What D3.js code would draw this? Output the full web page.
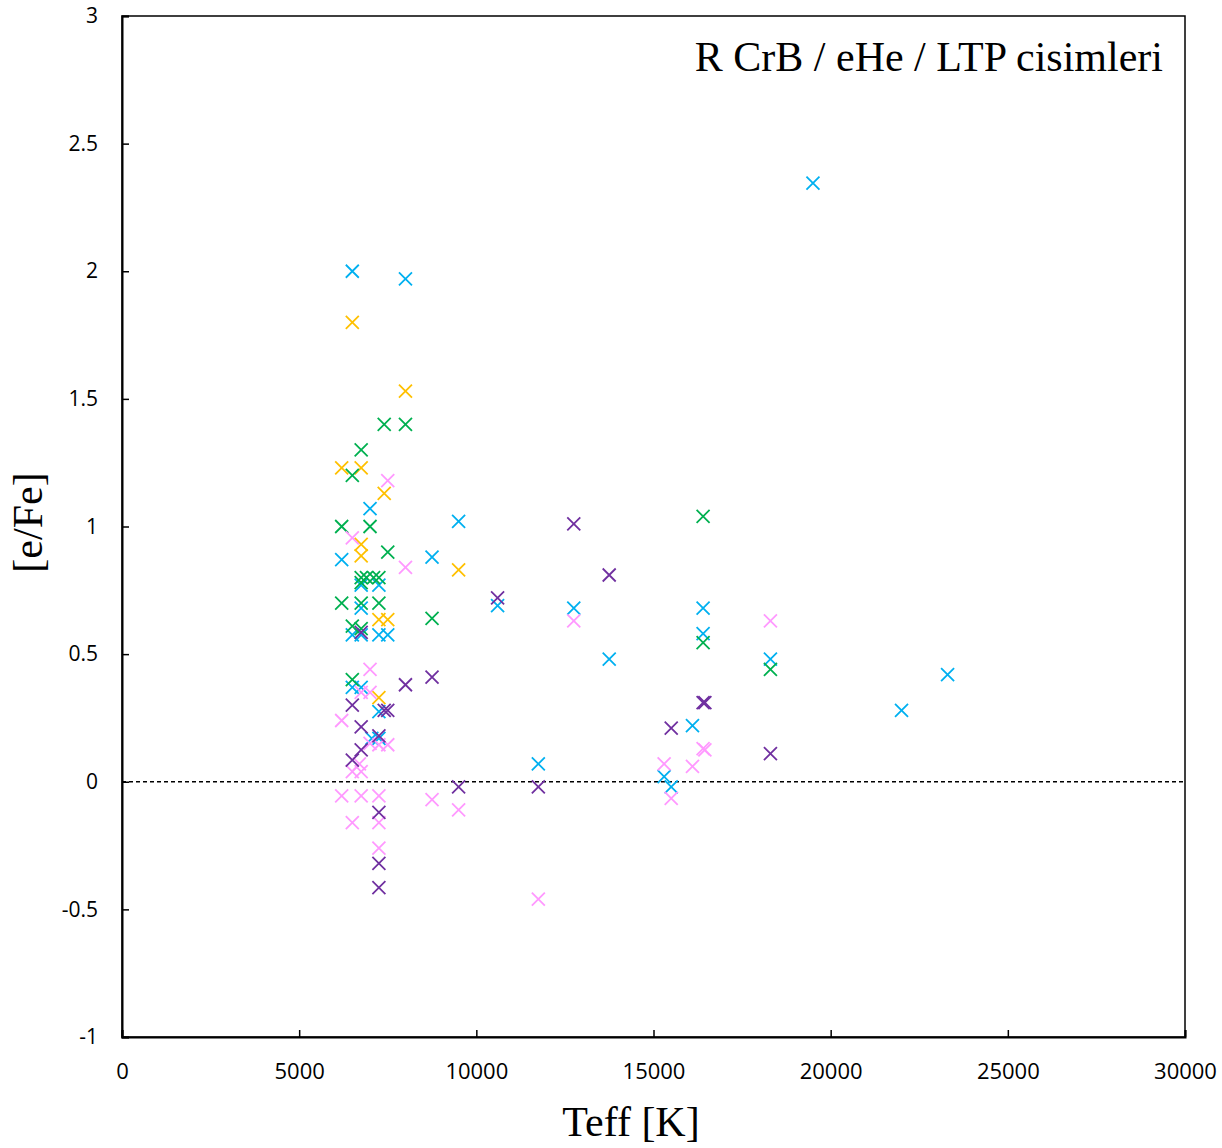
<!DOCTYPE html>
<html>
<head>
<meta charset="utf-8">
<script src="https://cdn.jsdelivr.net/npm/d3@7"></script>
<style>
  body { margin: 0; background: #fff; }
</style>
</head>
<body>
<div id="chart"></div>
<script>
// [Teff, e/Fe] pairs per colour group
let cyanPts = [[6500,2.00],[8000,1.97],[19500,2.345],[6200,0.87],[7000,1.07],[9500,1.02],[8750,0.88],
    [6750,0.77],[7250,0.77],[6750,0.68],[6500,0.575],[6750,0.575],[7250,0.575],[7500,0.575],[10600,0.69],
    [12750,0.68],[13750,0.48],[16400,0.68],[16400,0.58],[18300,0.48],[22000,0.28],[23300,0.42],
    [6500,0.37],[6750,0.37],[7250,0.275],[7050,0.17],[7250,0.17],[11750,0.07],[15300,0.02],[15500,-0.02],[16100,0.22]];
let orangePts = [[6500,1.80],[8000,1.53],[6200,1.23],[6750,1.23],[7400,1.13],[6750,0.93],[6750,0.885],
    [9500,0.83],[7250,0.635],[7500,0.635],[7250,0.33]];
let greenPts = [[6750,1.30],[7400,1.40],[8000,1.40],[6500,1.20],[6200,1.00],[7000,1.00],[7500,0.90],
    [6750,0.80],[6900,0.80],[7100,0.80],[7250,0.80],[6750,0.78],[6200,0.70],[6750,0.70],[7250,0.70],
    [6500,0.61],[6750,0.60],[8750,0.64],[16400,1.04],[16400,0.545],[18300,0.44],[6500,0.40]];
let pinkPts = [[7500,1.18],[6500,0.955],[8000,0.84],[7000,0.44],[6750,0.35],[7000,0.35],[6200,0.24],
    [7250,0.145],[7500,0.145],[7000,0.15],[6500,0.04],[6750,0.04],[6700,0.07],[6200,-0.055],[6750,-0.055],
    [7250,-0.055],[6500,-0.16],[7250,-0.16],[7250,-0.26],[8750,-0.07],[9500,-0.11],[11750,-0.46],
    [12750,0.63],[15300,0.07],[15500,-0.065],[16100,0.06],[16400,0.13],[16450,0.125],[18300,0.63]];
let purplePts = [[10600,0.72],[12750,1.01],[13750,0.81],[6750,0.585],[8000,0.38],[8750,0.41],[6500,0.30],
    [7400,0.28],[7500,0.28],[6750,0.215],[7250,0.18],[6750,0.125],[6500,0.085],[7250,-0.12],[7250,-0.32],
    [7250,-0.415],[9500,-0.02],[11750,-0.02],[15500,0.21],[16400,0.31],[16450,0.31],[18300,0.11]];

let xTicks = [0,5000,10000,15000,20000,25000,30000];
let yTicks = [-1,-0.5,0,0.5,1,1.5,2,2.5,3];

let series = [
    {name: "cyan", color: "#00b0f0", pts: cyanPts},
    {name: "orange", color: "#ffc000", pts: orangePts},
    {name: "green", color: "#00b050", pts: greenPts},
    {name: "pink", color: "#ff99ff", pts: pinkPts},
    {name: "purple", color: "#7030a0", pts: purplePts}
];

let width = 1222, height = 1148;
let margin = {top: 16, left: 122, right: 37, bottom: 111};
let bodyWidth = width - margin.left - margin.right;
let bodyHeight = height - margin.top - margin.bottom;

let svg = d3.select("#chart").append("svg")
    .attr("width", width)
    .attr("height", height);
let g = svg.append("g").attr("transform", "translate(" + [margin.left, margin.top] + ")");

let xScale = d3.scaleLinear().domain([0, 30000]).range([0, bodyWidth]);
let yScale = d3.scaleLinear().domain([-1, 3]).range([bodyHeight, 0]);

// frame
g.append("rect")
    .attr("x", 0).attr("y", 0)
    .attr("width", bodyWidth).attr("height", bodyHeight)
    .attr("fill", "none")
    .attr("stroke", "#000")
    .attr("stroke-width", 1.5);

let tickFont = "'Open Sans', 'Liberation Sans', sans-serif";

let axisX = d3.axisBottom(xScale).tickValues(xTicks).tickSize(-7).tickPadding(26).tickFormat(d3.format("d"));
let gx = g.append("g").attr("transform", "translate(0," + bodyHeight + ")").call(axisX);
gx.select(".domain").attr("stroke-width", 2);
gx.selectAll("line").attr("stroke-width", 1.5);
gx.selectAll("text")
    .style("font-family", tickFont)
    .style("font-size", "22px")
    .attr("fill", "#000");

let axisY = d3.axisLeft(yScale).tickValues(yTicks).tickSize(-7).tickPadding(24).tickFormat(d => d);
let gy = g.append("g").call(axisY);
gy.select(".domain").attr("stroke-width", 2);
gy.selectAll("line").attr("stroke-width", 1.5);
gy.selectAll("text")
    .style("font-family", tickFont)
    .style("font-size", "21px")
    .attr("fill", "#000");

// zero line
g.append("line")
    .attr("x1", 0).attr("x2", bodyWidth)
    .attr("y1", yScale(0)).attr("y2", yScale(0))
    .attr("stroke", "#000")
    .attr("stroke-width", 1.3)
    .attr("stroke-dasharray", "4,3");

// x markers
let s = 6.5;
series.forEach(ser => {
    g.append("g").selectAll("path")
        .data(ser.pts)
        .enter()
        .append("path")
        .attr("transform", d => "translate(" + [xScale(d[0]), yScale(d[1])] + ")")
        .attr("d", "M" + (-s) + "," + (-s) + "L" + s + "," + s + "M" + (-s) + "," + s + "L" + s + "," + (-s))
        .attr("stroke", ser.color)
        .attr("stroke-width", 1.8)
        .attr("fill", "none");
});

let serif = "'Liberation Serif', 'DejaVu Serif', serif";

g.append("text")
    .attr("x", bodyWidth - 22)
    .attr("y", 55)
    .attr("text-anchor", "end")
    .style("font-family", serif)
    .style("font-size", "42px")
    .text("R CrB / eHe / LTP cisimleri");

svg.append("text")
    .attr("x", 631)
    .attr("y", 1136)
    .attr("text-anchor", "middle")
    .style("font-family", serif)
    .style("font-size", "42px")
    .text("Teff [K]");

svg.append("text")
    .attr("transform", "translate(42," + (margin.top + bodyHeight / 2 - 4) + ") rotate(-90)")
    .attr("text-anchor", "middle")
    .style("font-family", serif)
    .style("font-size", "42px")
    .text("[e/Fe]");
</script>
</body>
</html>
